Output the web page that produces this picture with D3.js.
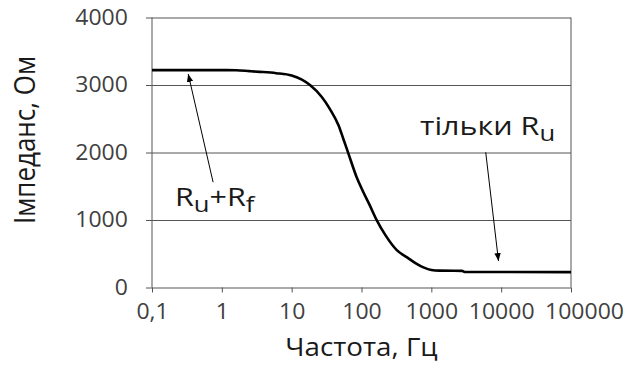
<!DOCTYPE html>
<html><head><meta charset="utf-8">
<script src="https://cdn.jsdelivr.net/npm/d3@7"></script>
<style>
html,body{margin:0;padding:0;background:#fff;}
text{font-family:"Open Sans","Noto Sans",sans-serif;}
</style></head>
<body><svg id="chart" width="629" height="372"></svg>
<script>
// ---- data ----
const frequency = [0.1, 1, 1.6, 2.5, 3.5, 6, 10, 14, 18.3, 27, 35, 47, 55, 65, 85, 100, 130, 165, 220, 320, 450, 600, 770, 1000, 1300, 2750, 3000, 100000];
const impedance = [3220, 3220, 3218, 3205, 3195, 3175, 3140, 3080, 3000, 2822, 2650, 2400, 2200, 1984, 1638, 1470, 1227, 998, 776, 554, 446, 358, 298, 259, 250, 247, 230, 228];
const yTicks = [0, 1000, 2000, 3000, 4000];
const xTicks = [0.1, 1, 10, 100, 1000, 10000, 100000];
const xTickLabels = ["0,1", "1", "10", "100", "1000", "10000", "100000"];
const xTitle = "Частота, Гц";
const yTitle = "Імпеданс, Ом";
// annotations in data coordinates: [freq, impedance]
const arrowFrom = [[0.75, 1560], [6010, 2003]];
const arrowTo = [[0.33, 3164], [9160, 392]];
const labelAt = [[0.213, 1210], [689, 2265]];
const labelParts = [
  [["R", false], ["u", true], ["+", false], ["R", false], ["f", true]],
  [["тільки ", false], ["R", false], ["u", true]]
];

const svg = d3.select("#chart");
const L = 152, R = 571, T = 17.5, B = 287.5;
const SX = 1.07;   // horizontal stretch of the reference's type
const x = d3.scaleLog().domain([0.1, 100000]).range([L, R]);
const y = d3.scaleLinear().domain([0, 4000]).range([B, T]);
const lineCol = "#555";

// y grid + labels
const gy = svg.append("g").attr("transform", "translate(146,0)")
  .call(d3.axisLeft(y).tickValues(yTicks).tickSize(-(R - 146)).tickPadding(17).tickFormat(d3.format("d")));
gy.select(".domain").remove();
gy.selectAll(".tick line").attr("stroke", lineCol).attr("stroke-width", 1);
gy.selectAll(".tick text").attr("font-size", 21.5).attr("fill", "#404040")
  .attr("font-family", "Open Sans").attr("transform", `scale(${SX},1)`);

// x axis ticks + labels
const gx = svg.append("g").attr("transform", `translate(0,${B})`)
  .call(d3.axisBottom(x).tickValues(xTicks).tickSize(5).tickPadding(11.5)
    .tickFormat((d, i) => xTickLabels[i]));
gx.select(".domain").remove();
gx.selectAll(".tick line").attr("stroke", lineCol).attr("stroke-width", 1);
gx.selectAll(".tick text").attr("font-size", 21.5).attr("fill", "#404040")
  .attr("font-family", "Open Sans")
  .attr("transform", (d, i) => `translate(${i === xTicks.length - 1 ? 13 : 0},0) scale(${SX},1)`);

// left axis and right border
svg.append("line").attr("x1", L).attr("x2", L).attr("y1", T).attr("y2", B).attr("stroke", lineCol);
svg.append("line").attr("x1", R).attr("x2", R).attr("y1", T).attr("y2", B).attr("stroke", lineCol);

// curve
const line = d3.line().x((d, i) => x(frequency[i])).y((d, i) => y(impedance[i])).curve(d3.curveMonotoneX);
svg.append("path").datum(impedance).attr("d", line).attr("fill", "none")
  .attr("stroke", "#000").attr("stroke-width", 2.6).attr("stroke-linejoin", "round");

// arrows
svg.append("defs").append("marker").attr("id", "ah").attr("viewBox", "0 0 10 10")
  .attr("refX", 10).attr("refY", 5).attr("markerWidth", 8).attr("markerHeight", 8)
  .attr("markerUnits", "userSpaceOnUse").attr("orient", "auto")
  .append("path").attr("d", "M0,1 L10,5 L0,9 Z").attr("fill", "#000");
arrowFrom.forEach((a, i) => {
  svg.append("line").attr("x1", x(a[0])).attr("y1", y(a[1]))
    .attr("x2", x(arrowTo[i][0])).attr("y2", y(arrowTo[i][1]))
    .attr("stroke", "#000").attr("stroke-width", 1).attr("marker-end", "url(#ah)");
});

// labels
labelAt.forEach((p, i) => {
  const t = svg.append("text")
    .attr("transform", `translate(${x(p[0])},${y(p[1])}) scale(1.22,1)`)
    .attr("font-size", 25).attr("fill", "#1a1a1a");
  let prevSub = false;
  labelParts[i].forEach(([s, sub]) => {
    const ts = t.append("tspan").text(s);
    if (sub) ts.attr("font-size", 21).attr("dy", prevSub ? 0 : 6);
    else if (prevSub) ts.attr("dy", -6);
    prevSub = sub;
  });
});

// axis titles
svg.append("text").attr("transform", `translate(${(L + R) / 2},356) scale(1.11,1)`).attr("text-anchor", "middle")
  .attr("font-size", 25).attr("fill", "#1a1a1a").text(xTitle);
svg.append("text").attr("transform", `translate(35,140) scale(1.11,1) rotate(-90)`).attr("text-anchor", "middle")
  .attr("font-size", 26).attr("fill", "#1a1a1a").text(yTitle);
</script></body></html>
